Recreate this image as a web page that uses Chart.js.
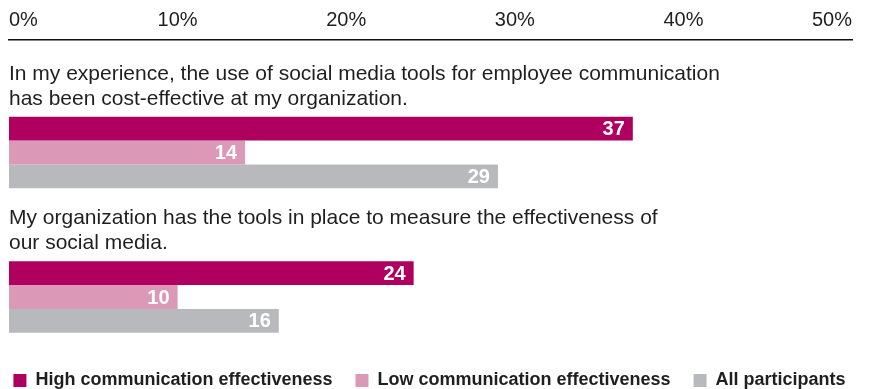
<!DOCTYPE html>
<html>
<head>
<meta charset="utf-8">
<script src="https://cdn.jsdelivr.net/npm/chart.js@4/dist/chart.umd.min.js"></script>
<style>
  html, body { margin: 0; padding: 0; background: #ffffff; }
  #wrap { width: 869px; height: 389px; }
</style>
</head>
<body>
<div id="wrap"><canvas id="chart"></canvas></div>
<script>
// Survey statements, each split into its printed lines
const questions = [
  ["In my experience, the use of social media tools for employee communication",
   "has been cost-effective at my organization."],
  ["My organization has the tools in place to measure the effectiveness of",
   "our social media."]
];

const seriesNames = [
  "High communication effectiveness",
  "Low communication effectiveness",
  "All participants"
];

// Percent of respondents agreeing, per statement
const highEffectiveness = [37, 24];
const lowEffectiveness = [14, 10];
const allParticipants = [29, 16];

const seriesColors = ["#b0005f", "#db98b7", "#b8b9bd"];

const axisMax = 50;
const axisStep = 10;

const textColor = "#1f1f1f";
const fontFamily = "'Liberation Sans', Arial, sans-serif";

// Bars sit on a numeric index axis: statement i is drawn at position i
const toPoints = (values) => values.map((v, i) => ({ x: v, y: i }));

// White value figures at the end of each bar
const valueLabels = {
  id: "valueLabels",
  afterDatasetsDraw(chart) {
    const ctx = chart.ctx;
    ctx.save();
    ctx.font = "bold 20px " + fontFamily;
    ctx.fillStyle = "#ffffff";
    ctx.textAlign = "right";
    ctx.textBaseline = "middle";
    chart.data.datasets.forEach((ds, di) => {
      const meta = chart.getDatasetMeta(di);
      meta.data.forEach((bar, i) => {
        ctx.fillText(String(ds.data[i].x), bar.x - 8, bar.y + 1);
      });
    });
    ctx.restore();
  }
};

new Chart(document.getElementById("chart"), {
  type: "bar",
  data: {
    datasets: [
      { label: seriesNames[0], data: toPoints(highEffectiveness), backgroundColor: seriesColors[0] },
      { label: seriesNames[1], data: toPoints(lowEffectiveness), backgroundColor: seriesColors[1] },
      { label: seriesNames[2], data: toPoints(allParticipants), backgroundColor: seriesColors[2] }
    ]
  },
  options: {
    indexAxis: "y",
    responsive: true,
    maintainAspectRatio: false,
    animation: false,
    events: [],
    layout: { padding: { left: -10, right: 0, top: 0, bottom: 0 } },
    datasets: {
      bar: { borderWidth: 0, categoryPercentage: 0.495, barPercentage: 1.0 }
    },
    scales: {
      x: {
        position: "top",
        min: 0,
        max: axisMax,
        grid: { display: false, drawTicks: false },
        border: { display: true, color: "#111111", width: 1.5 },
        ticks: {
          stepSize: axisStep,
          align: "inner",
          padding: 9,
          color: textColor,
          font: { family: fontFamily, size: 20, lineHeight: "22px" },
          callback: (v) => v + "%"
        }
      },
      y: {
        type: "linear",
        reverse: true,
        offset: false,
        min: -0.7785,
        max: 1.3565,
        grid: { display: false, drawTicks: false },
        border: { display: false },
        afterBuildTicks: (scale) => {
          scale.ticks = questions.map((q, i) => ({ value: i }));
        },
        afterFit: (scale) => {
          scale.width = 19;
          scale.paddingTop = 0;
          scale.paddingBottom = 0;
        },
        ticks: {
          mirror: true,
          padding: 0,
          labelOffset: -66,
          color: textColor,
          font: { family: fontFamily, size: 21, lineHeight: "25px" },
          callback: (v) => questions[v]
        }
      },
      // empty spacer on the right so the value axis ends short of the edge
      gutter: {
        type: "linear",
        axis: "y",
        position: "right",
        grid: { display: false, drawTicks: false },
        border: { display: false },
        ticks: { display: false },
        afterFit: (scale) => {
          scale.width = 17;
        }
      }
    },
    plugins: {
      legend: {
        position: "bottom",
        maxHeight: 40.5,
        labels: {
          boxWidth: 13,
          boxHeight: 13,
          padding: 23,
          color: textColor,
          font: { family: fontFamily, size: 18, weight: "bold" }
        }
      },
      tooltip: { enabled: false }
    }
  },
  plugins: [valueLabels]
});
</script>
</body>
</html>
